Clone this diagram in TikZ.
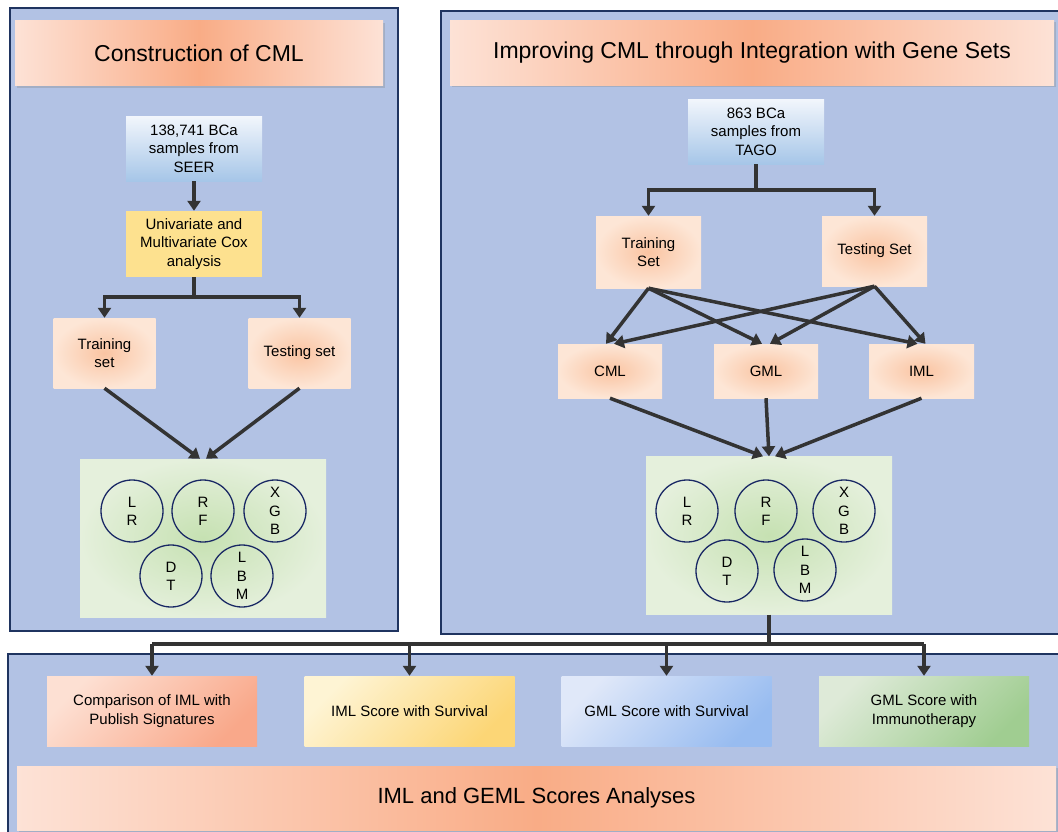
\documentclass[tikz,border=0pt]{standalone}
\usepackage{fontspec}
\setmainfont{Liberation Sans}
\usetikzlibrary{arrows.meta,positioning,shadows}

\definecolor{panelblue}{RGB}{178,194,228}
\definecolor{paneledge}{RGB}{31,52,96}
\definecolor{arrowgray}{RGB}{51,51,51}
\definecolor{peachin}{RGB}{249,172,134}
\definecolor{peachout}{RGB}{253,226,214}
\definecolor{boxin}{RGB}{250,196,162}
\definecolor{boxout}{RGB}{253,230,214}
\definecolor{skytop}{RGB}{242,246,252}
\definecolor{skybot}{RGB}{166,198,232}
\definecolor{coxyellow}{RGB}{253,225,143}
\definecolor{greenin}{RGB}{198,225,178}
\definecolor{greenout}{RGB}{229,240,220}
\definecolor{ringblue}{RGB}{25,40,100}

\begin{document}
\begin{tikzpicture}[
    x = 1pt, y = -1pt, % pixel units, y going down
    flow/.style = {draw=arrowgray, line width=3.5pt, -{Triangle[length=10pt,width=13pt]}},
    bar/.style = {draw=arrowgray, line width=3.5pt},
    panel/.style = {draw=paneledge, line width=2pt, fill=panelblue, inner sep=0pt},
    titlebox/.style = {left color=peachout, right color=peachout, middle color=peachin,
        inner sep=0pt, drop shadow={shadow xshift=2pt, shadow yshift=-2pt, opacity=0.3},
        font=\fontsize{23}{28}\selectfont},
    setbox/.style = {inner color=boxin, outer color=boxout, inner sep=0pt, align=center,
        minimum width=102pt, minimum height=70pt, font=\fontsize{15}{18.5}\selectfont},
    databox/.style = {top color=skytop, bottom color=skybot, inner sep=0pt, align=center,
        minimum width=136pt, minimum height=65pt, font=\fontsize{15}{18.5}\selectfont},
    mlbox/.style = {inner color=greenin, outer color=greenout, inner sep=0pt,
        minimum width=246pt, minimum height=158pt},
    algo/.style = {circle, draw=ringblue, line width=1.3pt, inner sep=0pt, align=center,
        minimum size=62pt, font=\fontsize{15}{18.3}\selectfont},
    scorebox/.style = {shading angle=45, inner sep=0pt, align=center,
        minimum width=210pt, minimum height=70pt, font=\fontsize{15}{18.5}\selectfont}
    ]

    \clip (0,0) rectangle (1058,831);

    % the three panels
    \node[panel, minimum width=388pt, minimum height=623pt] (lpanel) at (204,319.5) {};
    \node[panel, minimum width=629pt, minimum height=623pt] (rpanel) at (755.5,322.5) {};
    \node[panel, minimum width=1062pt, minimum height=191pt] (bpanel) at (539,749.5) {};

    % construction of CML
    \node[titlebox, minimum width=368pt, minimum height=65pt] (ltitle) at (199,53) {Construction of CML};
    \node[databox] (seer) at (194,148.5) {138,741 BCa\\samples from\\SEER};
    \node[fill=coxyellow, inner sep=0pt, align=center, minimum width=136pt, minimum height=66pt,
        font=\fontsize{15}{18.5}\selectfont] (cox) at (194,244) {Univariate and\\Multivariate Cox\\analysis};
    \node[setbox] (ltrain) at (104.5,353) {Training\\set};
    \node[setbox] (ltest) at (299.5,353) {Testing set};
    \node[mlbox] (lml) at (203,538) {};
    \node[algo] (llr) at (132,511) {L\\R};
    \node[algo] (lrf) at (203,511) {R\\F};
    \node[algo] (lxgb) at (275,511) {X\\G\\B};
    \node[algo] (ldt) at (171,576) {D\\T};
    \node[algo] (llbm) at (242,576) {L\\B\\M};

    \coordinate (lsplit) at (194,297);
    \draw[flow] (seer) -- (cox);
    \draw[bar] (cox) -- (lsplit);
    \draw[flow] (lsplit) -| (ltrain);
    \draw[flow] (lsplit) -| (ltest);
    \draw[flow] (ltrain.south) -- ([xshift=-3pt]lml.north);
    \draw[flow] (ltest.south) -- ([xshift=3pt]lml.north);

    % integration with gene sets
    \node[titlebox, minimum width=604pt, minimum height=65pt] (rtitle) at (752,52.5) {Improving CML through Integration with Gene Sets};
    \node[databox] (tago) at (756,131.5) {863 BCa\\samples from\\TAGO};
    \node[setbox, minimum width=105pt, minimum height=72pt] (rtrain) at (648.5,252) {Training\\Set};
    \node[setbox, minimum width=105pt] (rtest) at (874.5,251) {Testing Set};
    \node[setbox, minimum width=104pt, minimum height=54pt] (cml) at (610,371) {CML};
    \node[setbox, minimum width=104pt, minimum height=54pt] (gml) at (766,371) {GML};
    \node[setbox, minimum width=105pt, minimum height=54pt] (iml) at (921.5,371) {IML};
    \node[mlbox] (rml) at (769,535.5) {};
    \node[algo] (rlr) at (687,511) {L\\R};
    \node[algo] (rrf) at (766,511) {R\\F};
    \node[algo] (rxgb) at (844,511) {X\\G\\B};
    \node[algo] (rdt) at (727,571) {D\\T};
    \node[algo] (rlbm) at (805,570) {L\\B\\M};

    \coordinate (rsplit) at (756,190);
    \draw[bar] (tago) -- (rsplit);
    \draw[flow] (rsplit) -| (rtrain);
    \draw[flow] (rsplit) -| (rtest);
    \foreach \m in {cml,gml,iml} {
        \draw[flow] (rtrain.south) -- ([xshift=-4pt]\m.north);
        \draw[flow] (rtest.south) -- ([xshift=4pt]\m.north);
    }
    \draw[flow] (cml.south) -- ([xshift=-6pt]rml.north);
    \draw[flow] (gml.south) -- (rml.north);
    \draw[flow] (iml.south) -- ([xshift=6pt]rml.north);

    % score analyses
    \node[scorebox, top color={rgb,255:red,253;green,224;blue,211}, bottom color={rgb,255:red,249;green,168;blue,138},
        shading angle=45] (compare) at (152,711) {Comparison of IML with\\Publish Signatures};
    \node[scorebox, top color={rgb,255:red,254;green,244;blue,212}, bottom color={rgb,255:red,252;green,214;blue,118},
        shading angle=45] (imlsurv) at (409.5,711) {IML Score with Survival};
    \node[scorebox, top color={rgb,255:red,224;green,232;blue,249}, bottom color={rgb,255:red,152;green,188;blue,240},
        shading angle=45] (gmlsurv) at (666.5,711) {GML Score with Survival};
    \node[scorebox, top color={rgb,255:red,222;green,234;blue,216}, bottom color={rgb,255:red,160;green,205;blue,145},
        shading angle=45] (gmlimmu) at (924,711) {GML Score with\\Immunotherapy};
    \node[titlebox, minimum width=1039pt, minimum height=64pt, font=\fontsize{22}{26}\selectfont] (btitle) at (536.5,798) {IML and GEML Scores Analyses};

    \coordinate (bsplit) at (769,644);
    \draw[bar] (rml) -- (bsplit);
    \draw[bar] (compare.north |- bsplit) -- (gmlimmu.north |- bsplit);
    \foreach \s in {compare,imlsurv,gmlsurv,gmlimmu}
        \draw[flow] (\s.north |- bsplit) -- (\s);
\end{tikzpicture}
\end{document}
